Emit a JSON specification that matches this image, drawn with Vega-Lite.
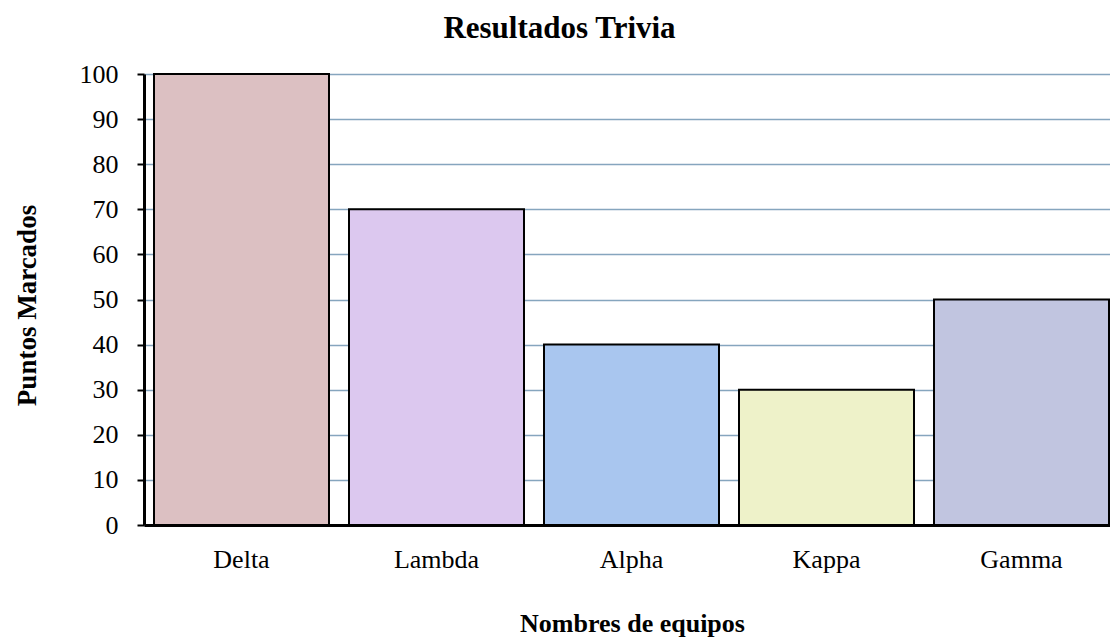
{
  "$schema": "https://vega.github.io/schema/vega-lite/v6.json",
  "autosize": "none",
  "padding": {"left": 144, "top": 74, "right": 0, "bottom": 112},
  "width": 975,
  "height": 451,
  "background": "white",
  "title": {
    "text": "Resultados Trivia",
    "font": "Liberation Serif",
    "fontSize": 31,
    "fontWeight": "bold",
    "color": "black",
    "anchor": "middle",
    "baseline": "alphabetic",
    "dx": -72,
    "offset": -8
  },
  "data": {
    "values": [
      {"equipo": "Delta", "puntos": 100},
      {"equipo": "Lambda", "puntos": 70},
      {"equipo": "Alpha", "puntos": 40},
      {"equipo": "Kappa", "puntos": 30},
      {"equipo": "Gamma", "puntos": 50}
    ]
  },
  "config": {"view": {"stroke": null}},
  "mark": {"type": "bar", "stroke": "black", "strokeWidth": 2},
  "encoding": {
    "x": {
      "field": "equipo",
      "type": "nominal",
      "sort": null,
      "scale": {"paddingInner": 0.1026, "paddingOuter": 0.0513},
      "axis": {
        "title": "Nombres de equipos",
        "titleFont": "Liberation Serif",
        "titleFontSize": 26,
        "titleFontWeight": "bold",
        "titleColor": "black",
        "titleX": 488,
        "titleY": 106,
        "titleBaseline": "alphabetic",
        "titleAlign": "center",
        "titleAnchor": null,
        "labelAngle": 0,
        "labelFont": "Liberation Serif",
        "labelFontSize": 26,
        "labelColor": "black",
        "labelPadding": 21,
        "labelBaseline": "top",
        "ticks": false,
        "domainColor": "black",
        "domainWidth": 3,
        "grid": false
      }
    },
    "y": {
      "field": "puntos",
      "type": "quantitative",
      "scale": {"domain": [0, 100], "nice": false},
      "axis": {
        "title": "Puntos Marcados",
        "titleFont": "Liberation Serif",
        "titleFontSize": 27,
        "titleFontWeight": "bold",
        "titleColor": "black",
        "titleX": -117,
        "titleY": 231,
        "titleAngle": -90,
        "titleBaseline": "middle",
        "titleAlign": "center",
        "values": [0, 10, 20, 30, 40, 50, 60, 70, 80, 90, 100],
        "labelFont": "Liberation Serif",
        "labelFontSize": 26,
        "labelColor": "black",
        "labelPadding": 19,
        "tickSize": 7,
        "tickColor": "black",
        "tickWidth": 2,
        "domainColor": "black",
        "domainWidth": 3,
        "grid": true,
        "gridColor": "#86a5be",
        "gridWidth": 1.5
      }
    },
    "color": {
      "field": "equipo",
      "type": "nominal",
      "sort": null,
      "legend": null,
      "scale": {
        "domain": ["Delta", "Lambda", "Alpha", "Kappa", "Gamma"],
        "range": ["#dcc0c2", "#dcc8ef", "#a9c6ef", "#eef2c9", "#c1c5e0"]
      }
    },
    "fillOpacity": {"value": 1}
  }
}
